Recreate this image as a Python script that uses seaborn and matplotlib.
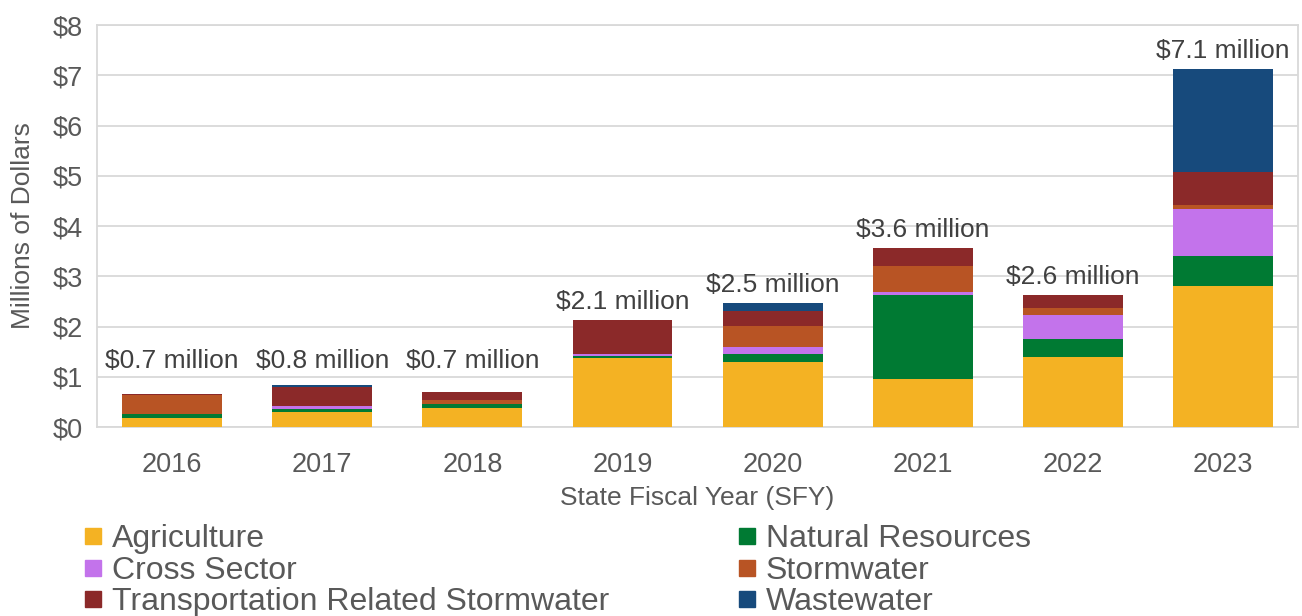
import matplotlib
matplotlib.use("Agg")
import matplotlib.pyplot as plt
from matplotlib.lines import Line2D
import numpy as np
import pandas as pd
import seaborn as sns

# Funding by sector and state fiscal year, in millions of dollars
years = ["2016", "2017", "2018", "2019", "2020", "2021", "2022", "2023"]
agriculture = [0.18, 0.29, 0.385, 1.38, 1.30, 0.955, 1.39, 2.81]
natural_resources = [0.08, 0.07, 0.08, 0.03, 0.15, 1.68, 0.365, 0.60]
cross_sector = [0.0, 0.065, 0.0, 0.05, 0.14, 0.045, 0.465, 0.935]
stormwater = [0.38, 0.0, 0.07, 0.0, 0.42, 0.53, 0.15, 0.07]
transportation_stormwater = [0.02, 0.365, 0.155, 0.67, 0.30, 0.36, 0.26, 0.65]
wastewater = [0.0, 0.045, 0.0, 0.0, 0.165, 0.0, 0.0, 2.065]

sectors = ["Agriculture", "Natural Resources", "Cross Sector", "Stormwater",
           "Transportation Related Stormwater", "Wastewater"]
series = [agriculture, natural_resources, cross_sector, stormwater,
          transportation_stormwater, wastewater]
colors = ["#F4B223", "#007A33", "#C373EB", "#B85424", "#8B2929", "#174A7C"]

df = pd.DataFrame({name: vals for name, vals in zip(sectors, series)})
df.insert(0, "year", years)
cum = df[sectors].cumsum(axis=1)
totals = cum[sectors[-1]].to_numpy()

sns.set_theme(style="white")
plt.rcParams["font.family"] = ["Liberation Sans", "DejaVu Sans"]
text_gray = "#595959"

fig = plt.figure(figsize=(13.02, 6.16), dpi=100)
ax = fig.add_axes([0.0745, 0.3068, 0.9225, 0.6526])

# Stacked bars: draw cumulative heights from the top layer down
for name, color in reversed(list(zip(sectors, colors))):
    sns.barplot(x=df["year"], y=cum[name], color=color, width=0.665,
                saturation=1, ax=ax, zorder=3, edgecolor="none", linewidth=0)

# Total labels above each bar
for i, t in enumerate(totals):
    ax.text(i, max(t, 0.95) + 0.12, f"${t:.1f} million", ha="center",
            va="bottom", fontsize=19, color="#404040", zorder=4)

ax.set_ylim(0, 8)
ax.set_xlim(-0.5, len(years) - 0.5)
ax.set_yticks(range(0, 9))
ax.set_yticklabels([f"${v}" for v in range(0, 9)])
ax.yaxis.grid(True, color="#D9D9D9", linewidth=1.3, zorder=0)
ax.set_axisbelow(True)
for s in ax.spines.values():
    s.set_color("#D9D9D9")
    s.set_linewidth(1.3)
ax.tick_params(axis="both", length=0, labelsize=19.5, colors=text_gray)
ax.tick_params(axis="x", pad=18)
ax.tick_params(axis="y", pad=10)
ax.set_xlabel("State Fiscal Year (SFY)", fontsize=19, color=text_gray, labelpad=6)
ax.set_ylabel("Millions of Dollars", fontsize=19, color=text_gray, labelpad=13)

# Legend in two columns below the chart
order = [0, 2, 4, 1, 3, 5]
handles = [Line2D([], [], marker="s", linestyle="none", markersize=11,
                  markerfacecolor=colors[k], markeredgecolor=colors[k])
           for k in order]
labels = [sectors[k] for k in order]
leg = fig.legend(handles, labels, loc="upper left", bbox_to_anchor=(0.064, 0.149),
                 ncol=2, frameon=False, fontsize=23, handlelength=0.6,
                 handletextpad=0.3, labelspacing=0.05, columnspacing=4.0,
                 borderaxespad=0, borderpad=0)
for txt in leg.get_texts():
    txt.set_color(text_gray)

fig.savefig("out.png", dpi=100)
